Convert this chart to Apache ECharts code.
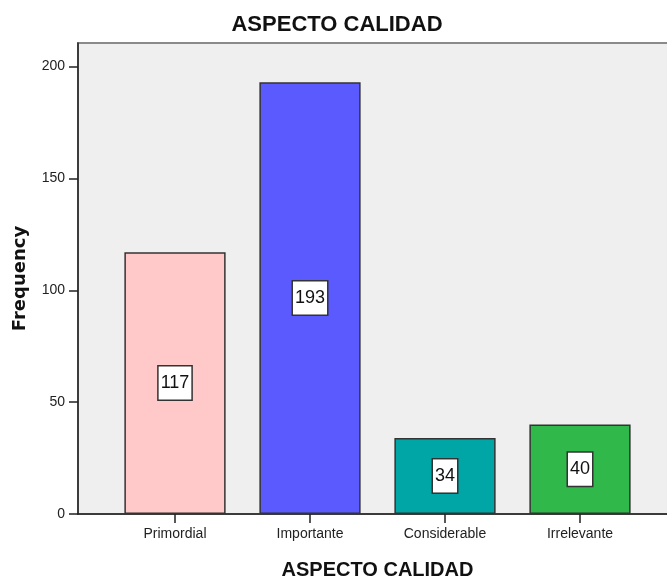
<!DOCTYPE html>
<html>
<head>
<meta charset="utf-8">
<script src="https://cdn.jsdelivr.net/npm/echarts@6/dist/echarts.min.js"></script>
<style>html,body{margin:0;padding:0;background:#fff}#c{width:667px;height:580px}</style>
</head>
<body>
<div id="c"></div>
<script>
var categories = ['Primordial', 'Importante', 'Considerable', 'Irrelevante'];
var frequencies = [117, 193, 34, 40];
var barColors = ['#ffc9c9', '#5a5aff', '#00a6a6', '#31b84b'];
var yTicks = [0, 50, 100, 150, 200];

var chart = echarts.init(document.getElementById('c'), null, {renderer: 'canvas'});
var SANS = '"Liberation Sans", Arial, sans-serif';
chart.setOption({
  animation: false,
  backgroundColor: '#ffffff',
  title: {
    text: 'ASPECTO CALIDAD',
    left: 337, top: 14, padding: 0, textAlign: 'center',
    textStyle: {fontFamily: SANS, fontWeight: 'bold', fontSize: 22, color: '#111'}
  },
  grid: [
    {left: 107.5, right: 19.5, top: 66.5, bottom: 66, show: false, outerBoundsMode: 'none', containLabel: false},
    {left: 78, right: -6, top: 43, bottom: 66, show: true, outerBoundsMode: 'none', containLabel: false,
     backgroundColor: '#efefef', borderColor: '#8a8a8a', borderWidth: 2}
  ],
  xAxis: [
    {
      type: 'category', gridIndex: 0, data: categories,
      axisLine: {show: false},
      axisTick: {show: true, alignWithLabel: true, length: 9, lineStyle: {color: '#222', width: 1.5}},
      axisLabel: {margin: 13, fontFamily: SANS, fontSize: 14, color: '#222'},
      name: 'ASPECTO CALIDAD', nameLocation: 'middle', nameGap: 46,
      nameTextStyle: {fontFamily: SANS, fontWeight: 'bold', fontSize: 20, color: '#111'}
    },
    {
      type: 'value', gridIndex: 1, min: 0, max: 1,
      axisLine: {show: true, lineStyle: {color: '#222', width: 1.5}},
      axisTick: {show: false}, axisLabel: {show: false}, splitLine: {show: false}
    }
  ],
  yAxis: [
    {
      type: 'value', gridIndex: 0, min: 0, max: 200, interval: 50, offset: 29.5,
      axisLine: {show: false},
      axisTick: {show: true, length: 9, lineStyle: {color: '#222', width: 1.5}, customValues: yTicks},
      axisLabel: {margin: 13, fontFamily: SANS, fontSize: 14, color: '#222', customValues: yTicks},
      splitLine: {show: false}
    },
    {
      type: 'value', gridIndex: 1, min: 0, max: 1,
      axisLine: {show: true, lineStyle: {color: '#222', width: 1.5}},
      axisTick: {show: false}, axisLabel: {show: false}, splitLine: {show: false},
      name: 'Frequency', nameLocation: 'middle', nameRotate: 90, nameGap: 49,
      nameTextStyle: {fontFamily: '"DejaVu Sans", sans-serif', fontWeight: 'bold', fontSize: 18, color: '#111'}
    }
  ],
  series: [{
    type: 'bar', xAxisIndex: 0, yAxisIndex: 0,
    barWidth: '75%',
    data: frequencies.map(function (v, i) {
      return {value: v, itemStyle: {color: barColors[i]}};
    }),
    itemStyle: {borderColor: '#333', borderWidth: 1.5},
    label: {
      show: true, position: 'inside',
      fontFamily: SANS, fontSize: 18, color: '#111',
      backgroundColor: '#ffffff', borderColor: '#333', borderWidth: 1.5,
      padding: [8, 2, 7, 2]
    }
  }]
});
</script>
</body>
</html>
